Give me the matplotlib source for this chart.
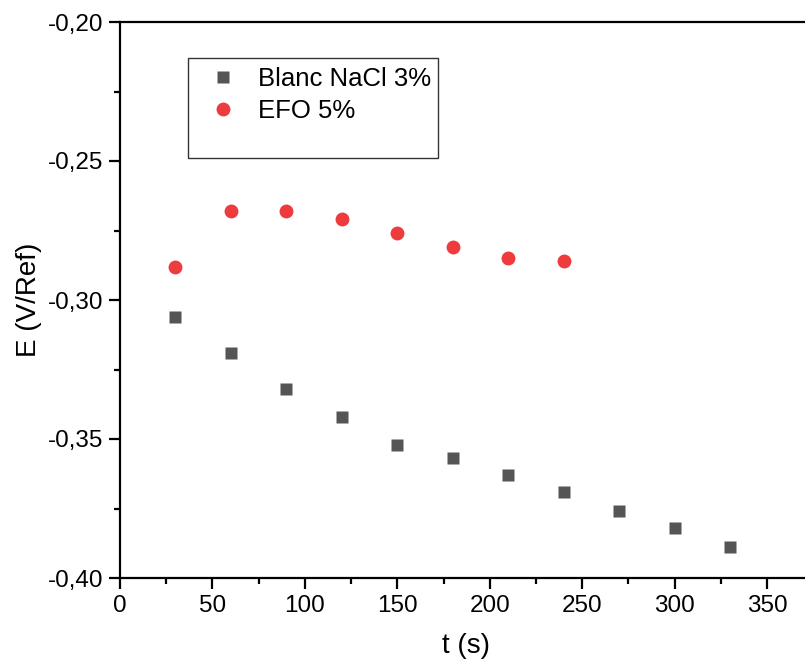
import numpy as np
import matplotlib
matplotlib.use("Agg")
import matplotlib.pyplot as plt
from matplotlib.ticker import MultipleLocator, FuncFormatter
from matplotlib.patches import Rectangle

plt.rcParams['font.family'] = ['Liberation Sans', 'DejaVu Sans']

# potential vs time
t_blanc = [30, 60, 90, 120, 150, 180, 210, 240, 270, 300, 330]
e_blanc = [-0.306, -0.319, -0.332, -0.342, -0.352, -0.357, -0.363, -0.369, -0.376, -0.382, -0.389]
t_efo = [30, 60, 90, 120, 150, 180, 210, 240]
e_efo = [-0.288, -0.268, -0.268, -0.271, -0.276, -0.281, -0.285, -0.286]

W, H = 805, 666
fig = plt.figure(figsize=(W / 100, H / 100), dpi=100)
left, right, top, bottom = 120, 812, 22, 578
ax = fig.add_axes([left / W, 1 - bottom / H, (right - left) / W, (bottom - top) / H])

sq, = ax.plot(t_blanc, e_blanc, 's', color='#555555', ms=8.5, mec='none', label='Blanc NaCl 3%')
ci, = ax.plot(t_efo, e_efo, 'o', color='#ee3b3e', ms=10, mec='none', label='EFO 5%')

ax.set_xlim(0, (right - left) * 350 / 647)
ax.set_ylim(-0.40, -0.20)
ax.xaxis.set_major_locator(MultipleLocator(50))
ax.xaxis.set_minor_locator(MultipleLocator(25))
ax.yaxis.set_major_locator(MultipleLocator(0.05))
ax.yaxis.set_minor_locator(MultipleLocator(0.025))
ax.yaxis.set_major_formatter(FuncFormatter(lambda v, p: f"{v:.2f}".replace('.', ',')))

ax.spines['right'].set_visible(False)
for s in ['left', 'top', 'bottom']:
    ax.spines[s].set_linewidth(1.6)
ax.tick_params(which='major', direction='out', length=8, width=1.6, labelsize=17.5, pad=4)
ax.tick_params(which='minor', direction='out', length=4.5, width=1.6)

ax.set_xlabel('t (s)', fontsize=20, labelpad=12)
ax.set_ylabel('E (V/Ref)', fontsize=20, labelpad=4)

# legend frame drawn by hand, entries placed inside
fig.patches.append(Rectangle((188 / W, 1 - 158 / H), 250 / W, 100 / H,
                             transform=fig.transFigure, fill=False, ec='#333333', lw=1.0))
fig.legend(handles=[sq, ci], loc='upper left', bbox_to_anchor=(190 / W, 1 - 49 / H),
           frameon=False, fontsize=18.5, handletextpad=0.75, labelspacing=0.3,
           handlelength=1.2, borderpad=0.2)

fig.savefig('out.png', dpi=100)
